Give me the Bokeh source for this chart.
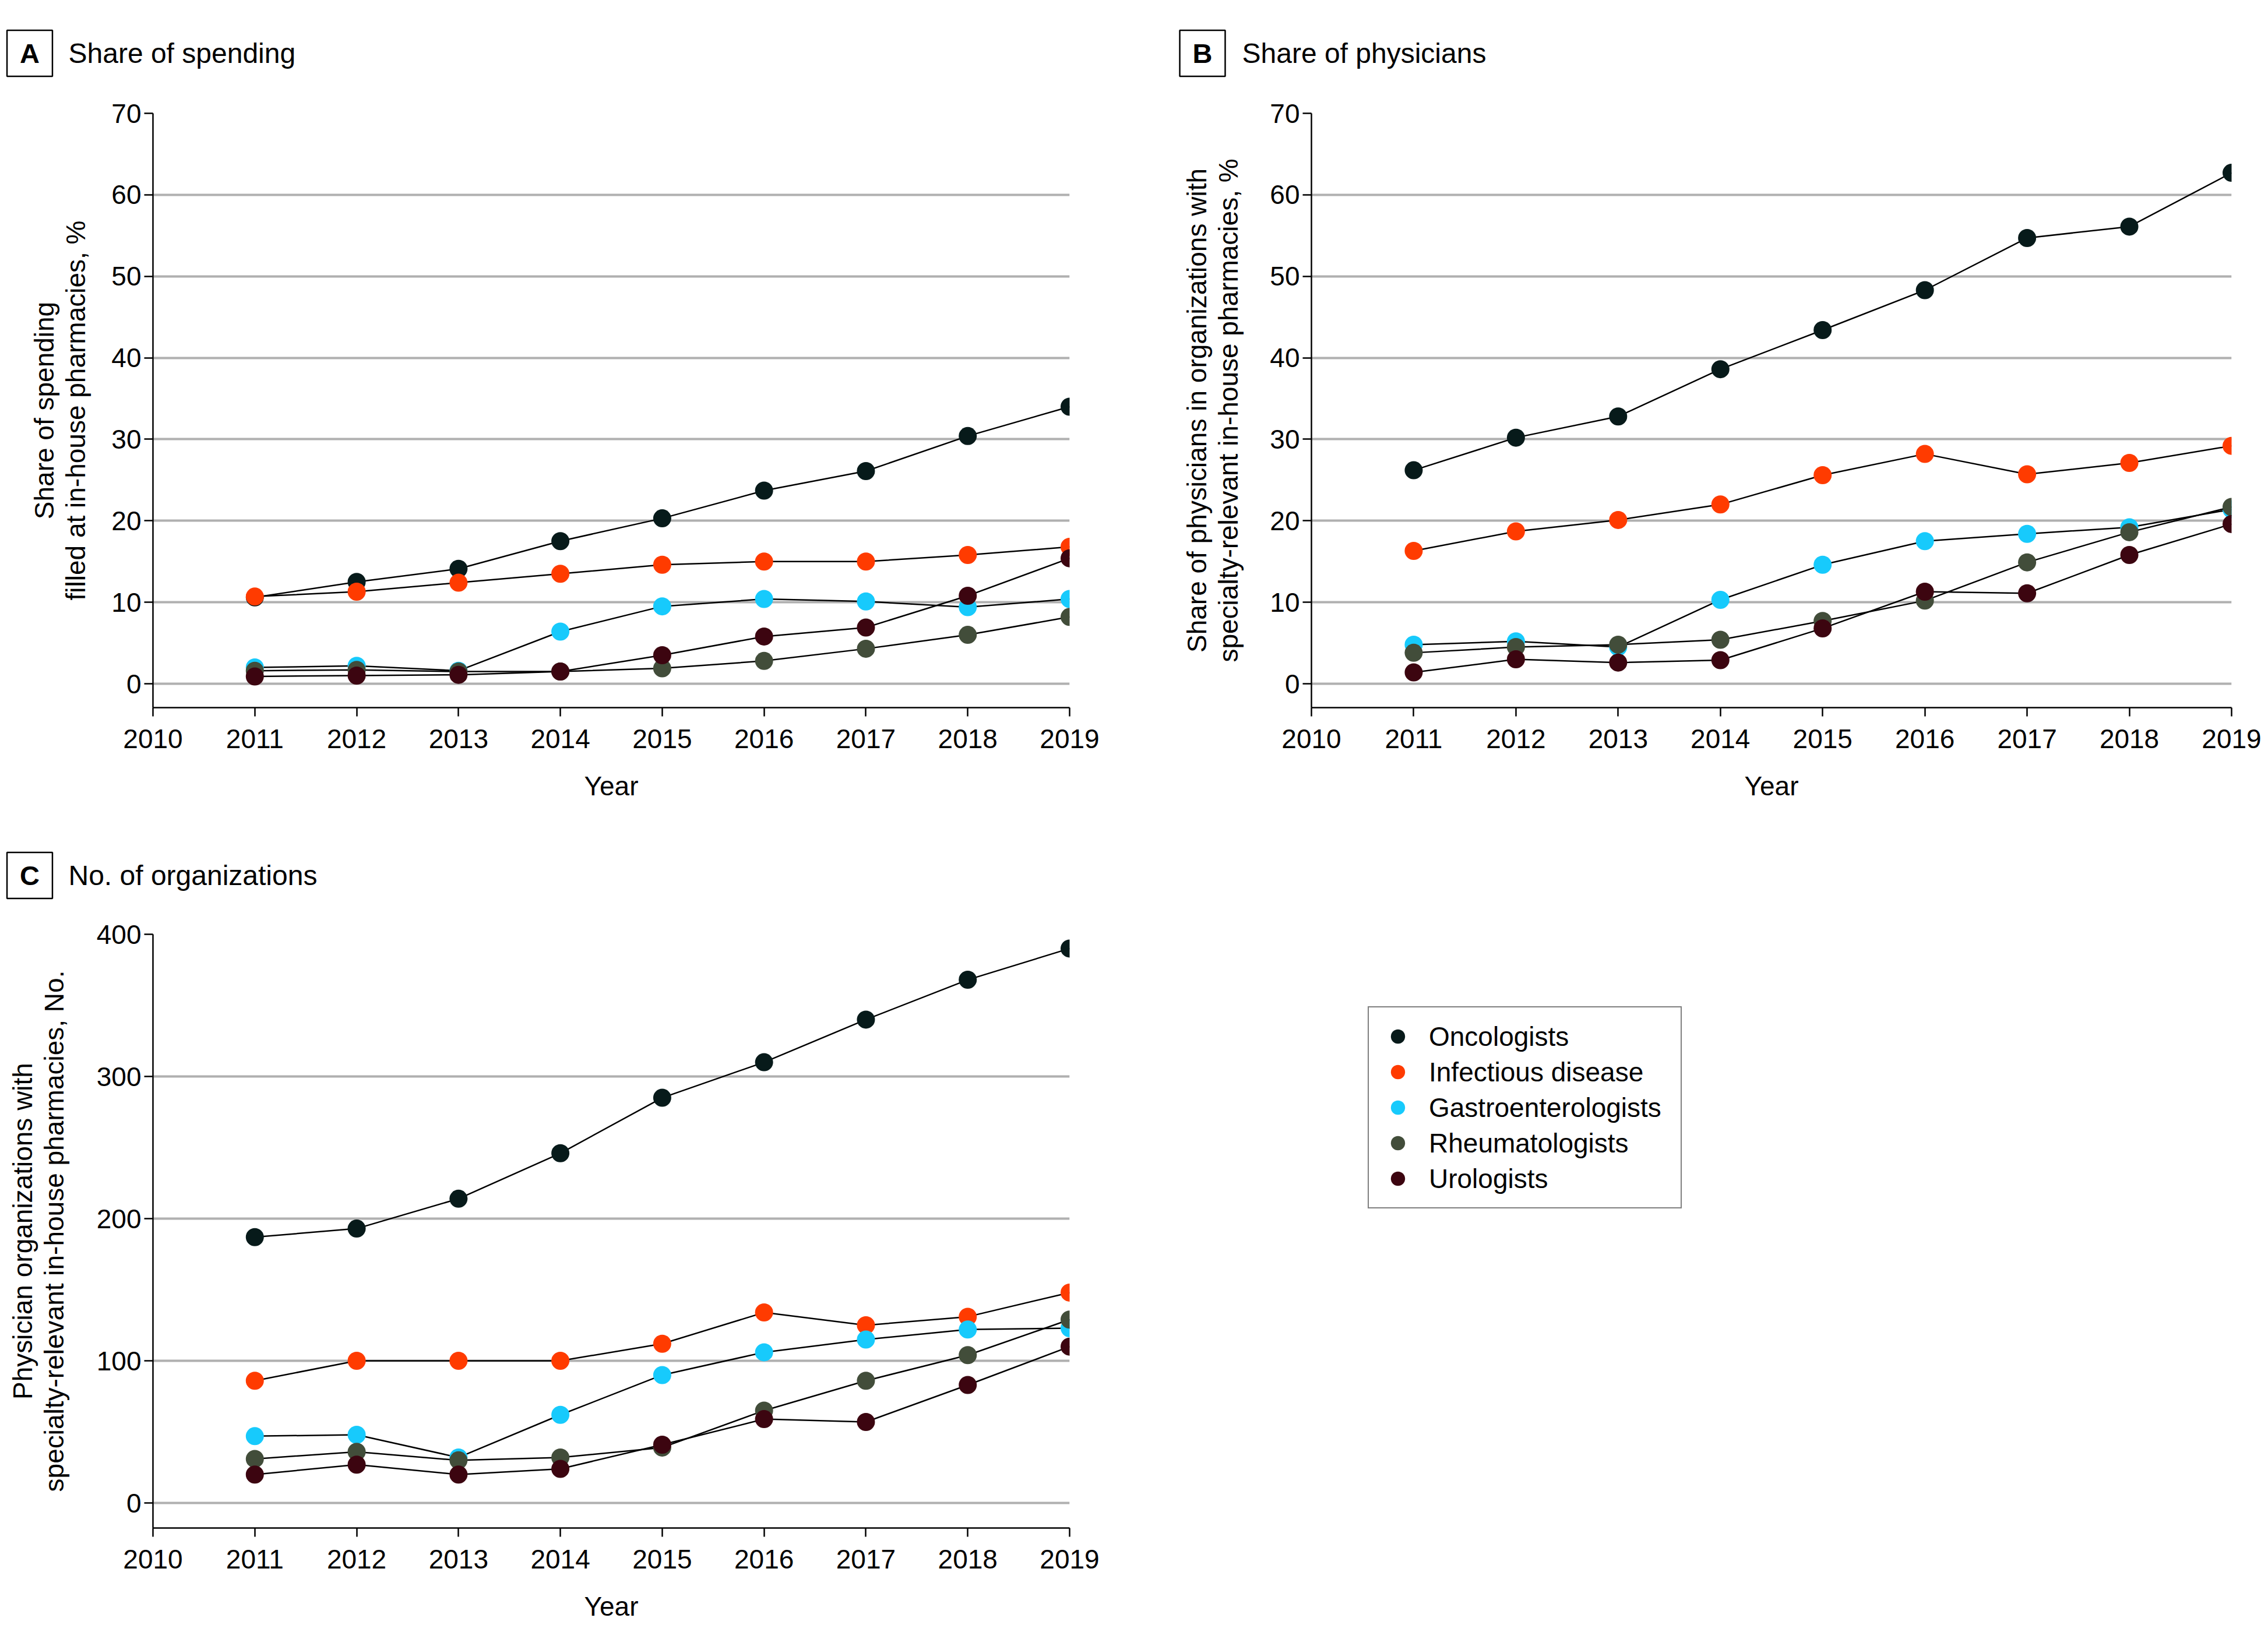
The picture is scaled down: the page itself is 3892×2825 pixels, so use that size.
from bokeh.plotting import figure
from bokeh.layouts import column, row
from bokeh.models import FixedTicker, Label, Legend, LegendItem, Range1d, ColumnDataSource
from bokeh.embed import file_html
from bokeh.resources import INLINE

# ---------------- data ----------------
years = [2011, 2012, 2013, 2014, 2015, 2016, 2017, 2018, 2019]
x_ticks = [2010, 2011, 2012, 2013, 2014, 2015, 2016, 2017, 2018, 2019]
specialties = ["Oncologists", "Infectious disease", "Gastroenterologists",
               "Rheumatologists", "Urologists"]
colors = ["#071a1a", "#ff3b00", "#17cafc", "#424d3a", "#3c0510"]

# A: share of spending filled at in-house pharmacies, %
spend_onc = [10.6, 12.5, 14.1, 17.5, 20.3, 23.7, 26.1, 30.4, 34.0]
spend_inf = [10.7, 11.3, 12.4, 13.5, 14.6, 15.0, 15.0, 15.8, 16.8]
spend_gas = [2.0, 2.2, 1.6, 6.4, 9.5, 10.4, 10.1, 9.4, 10.4]
spend_rhe = [1.6, 1.7, 1.5, 1.5, 1.9, 2.8, 4.3, 6.0, 8.2]
spend_uro = [0.9, 1.0, 1.1, 1.5, 3.5, 5.8, 6.9, 10.8, 15.4]

# B: share of physicians in organizations with in-house pharmacies, %
phys_onc = [26.2, 30.2, 32.8, 38.6, 43.4, 48.3, 54.7, 56.1, 62.7]
phys_inf = [16.3, 18.7, 20.1, 22.0, 25.6, 28.2, 25.7, 27.1, 29.2]
phys_gas = [4.8, 5.2, 4.5, 10.3, 14.6, 17.5, 18.4, 19.2, 21.4]
phys_rhe = [3.8, 4.5, 4.8, 5.4, 7.7, 10.2, 14.9, 18.6, 21.7]
phys_uro = [1.4, 3.0, 2.6, 2.9, 6.8, 11.3, 11.1, 15.8, 19.6]

# C: number of organizations
org_onc = [187, 193, 214, 246, 285, 310, 340, 368, 390]
org_inf = [86, 100, 100, 100, 112, 134, 125, 131, 148]
org_gas = [47, 48, 32, 62, 90, 106, 115, 122, 123]
org_rhe = [31, 36, 30, 32, 39, 65, 86, 104, 129]
org_uro = [20, 27, 20, 24, 41, 59, 57, 83, 110]

ticks_pct = [0, 10, 20, 30, 40, 50, 60, 70]
ticks_org = [0, 100, 200, 300, 400]

panel_letters = ["A", "B", "C"]
panel_titles = ["Share of spending", "Share of physicians", "No. of organizations"]
y_labels = ["Share of spending\nfilled at in-house pharmacies, %",
            "Share of physicians in organizations with\nspecialty-relevant in-house pharmacies, %",
            "Physician organizations with\nspecialty-relevant in-house pharmacies, No."]

FONT = "Liberation Sans"
FS = "46px"


def blank_fig(w, h, bl=0, br=0, bt=0, bb=0):
    p = figure(frame_width=w, frame_height=h,
               min_border_left=bl, min_border_right=br,
               min_border_top=bt, min_border_bottom=bb,
               x_range=Range1d(0, w), y_range=Range1d(0, h),
               x_axis_location=None, y_axis_location=None,
               output_backend="svg", toolbar_location=None)
    p.xgrid.visible = False
    p.ygrid.visible = False
    p.outline_line_color = None
    p.background_fill_color = "white"
    p.border_fill_color = "white"
    return p


def title_fig(w, h, letter, text, x_box, x_text, y_base):
    p = blank_fig(w, h)
    p.add_layout(Label(x=x_box, y=y_base, text=letter, text_align="center",
                       text_baseline="alphabetic", text_font=FONT,
                       text_font_size="47px", text_font_style="bold",
                       text_color="black", border_line_color="black",
                       border_line_width=2.5, background_fill_color="white",
                       padding=(22, 13)))
    p.add_layout(Label(x=x_text, y=y_base, text=text, text_align="left",
                       text_baseline="alphabetic", text_font=FONT,
                       text_font_size="48px", text_color="black"))
    return p


def make_panel(bl, br, bt, bb, fw, fh, y_range, yticks, ylabel, ylab_standoff):
    p = figure(frame_width=fw, frame_height=fh,
               min_border_left=bl, min_border_right=br,
               min_border_top=bt, min_border_bottom=bb,
               x_range=Range1d(2010, 2019), y_range=y_range,
               output_backend="svg", toolbar_location=None)
    p.outline_line_color = None
    p.background_fill_color = "white"
    p.border_fill_color = "white"
    xt = FixedTicker(ticks=x_ticks)
    yt = FixedTicker(ticks=yticks)
    p.xaxis.ticker = xt
    p.yaxis.ticker = yt
    p.xgrid.grid_line_color = None
    p.ygrid.ticker = yt
    p.ygrid.grid_line_color = "#b0b0b0"
    p.ygrid.grid_line_width = 4
    for ax in (p.xaxis, p.yaxis):
        ax.axis_line_color = "black"
        ax.axis_line_width = 2.5
        ax.major_tick_line_color = "black"
        ax.major_tick_line_width = 2.5
        ax.major_tick_out = 15
        ax.major_tick_in = 0
        ax.minor_tick_line_color = None
        ax.major_label_text_font = FONT
        ax.major_label_text_font_size = FS
        ax.major_label_text_color = "black"
        ax.axis_label_text_font = FONT
        ax.axis_label_text_font_size = FS
        ax.axis_label_text_font_style = "normal"
        ax.axis_label_text_color = "black"
        ax.axis_label_text_line_height = 1.04
    p.xaxis.major_label_standoff = 22
    p.yaxis.major_label_standoff = 5
    p.xaxis.axis_label = "Year"
    p.xaxis.axis_label_standoff = 36
    p.yaxis.axis_label = ylabel
    p.yaxis.axis_label_standoff = ylab_standoff
    return p


def add_series(p, series):
    rends = []
    for name, color, vals in zip(specialties, colors, series):
        src = ColumnDataSource(dict(year=years, value=vals))
        p.line("year", "value", source=src, line_color="black", line_width=2.5)
        r = p.scatter("year", "value", source=src, size=31,
                      fill_color=color, line_color=color, line_width=0)
        rends.append(r)
    return rends


FW, FH = 1573, 1020
W1, W2 = 1990, 1895

tA = title_fig(W1, 150, panel_letters[0], panel_titles[0], 50.5, 117, 59)
tB = title_fig(W2, 150, panel_letters[1], panel_titles[1], 73, 141, 59)

pA = make_panel(262, 155, 44, 206, FW, FH, Range1d(-2.93, 70), ticks_pct, y_labels[0], 32)
add_series(pA, [spend_onc, spend_inf, spend_gas, spend_rhe, spend_uro])

pB = make_panel(260, 56, 44, 206, 1579, FH, Range1d(-2.93, 70), ticks_pct, y_labels[1], 42)
add_series(pB, [phys_onc, phys_inf, phys_gas, phys_rhe, phys_uro])

tC = title_fig(W1 + W2, 140, panel_letters[2], panel_titles[2], 50.5, 117, 58)

FHC = 1019
CBT, CBB = 43, 180
pC = make_panel(262, 155, CBT, CBB, FW, FHC, Range1d(-17.6, 400), ticks_org, y_labels[2], 44)
add_series(pC, [org_onc, org_inf, org_gas, org_rhe, org_uro])

# legend panel: same top/bottom borders as panel C (rows align frames);
# the legend sits at top_left of its frame, offset by its margin
LEG_M = 124
LBL, LFW = 233, 900
pL = blank_fig(LFW, FHC, bl=LBL, br=W2 - LBL - LFW, bt=CBT, bb=CBB)
leg_r = []
for name, color in zip(specialties, colors):
    leg_r.append(pL.scatter(x=[float("nan")], y=[float("nan")], size=31,
                            fill_color=color, line_color=color, line_width=0))
legend = Legend(items=[LegendItem(label=n, renderers=[r]) for n, r in zip(specialties, leg_r)],
                location="top_left", orientation="vertical",
                glyph_width=61, glyph_height=61, spacing=0, padding=19,
                label_standoff=23, label_width=413, label_height=46,
                label_text_font=FONT, label_text_font_size=FS,
                label_text_color="black",
                border_line_color="black", border_line_width=2.5,
                background_fill_color="white", background_fill_alpha=1.0,
                margin=LEG_M)
pL.add_layout(legend)

layout = column(row(tA, tB), row(pA, pB), tC, row(pC, pL))
open("out.html", "w").write(file_html(layout, INLINE))
